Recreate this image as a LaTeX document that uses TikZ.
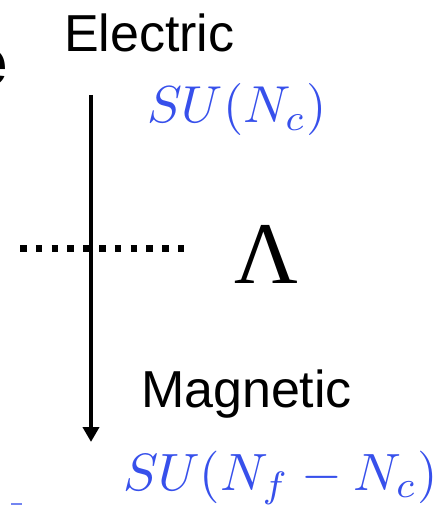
\documentclass[tikz,border=0pt]{standalone}
\usepackage{fontspec}
\setmainfont{Liberation Sans}
\newfontfamily\serifgreek{Liberation Serif}
\usetikzlibrary{arrows.meta}
\definecolor{subblue}{RGB}{55,80,235}
\tikzset{
  lbl/.style={anchor=base west, inner sep=0pt, outer sep=0pt},
  sanslbl/.style={lbl, font=\fontsize{52}{60}\selectfont},
  grouplbl/.style={lbl, text=subblue},
  flow/.style={line width=4pt, -{Triangle[width=16pt,length=15pt]}},
  dotline/.style={line width=7pt, dash pattern=on 6.5pt off 9.3pt}
}
\begin{document}
\begin{tikzpicture}[x=1pt,y=-1pt]
\useasboundingbox (0,0) rectangle (439,505);
\clip (0,0) rectangle (439,505);
\node[lbl, font=\fontsize{67}{70}\selectfont\bfseries] (cut) at (-29,86) {e};
\node[sanslbl] (el) at (64,52) {Electric};
\node[sanslbl] (mag) at (141,407) {Magnetic};
\node[grouplbl] (g1) at (147,123) {\scalebox{5.2}{$SU(N_c)$}};
\node[grouplbl] (g2) at (123,490) {\scalebox{5.25}{$SU(N_f-N_c)$}};
\node[lbl, font=\fontsize{88}{90}\selectfont\serifgreek] (lam) at (234,283) {Λ};
\coordinate (top) at (91,95);
\coordinate (bot) at (91,442);
\coordinate (dl) at (20,248);
\coordinate (dr) at (184,248);
\draw[dotline] (dl) -- (dr);
\draw[flow] (top) -- (bot);
\fill[subblue!70] (11,503) rectangle (22,505);
\end{tikzpicture}
\end{document}
